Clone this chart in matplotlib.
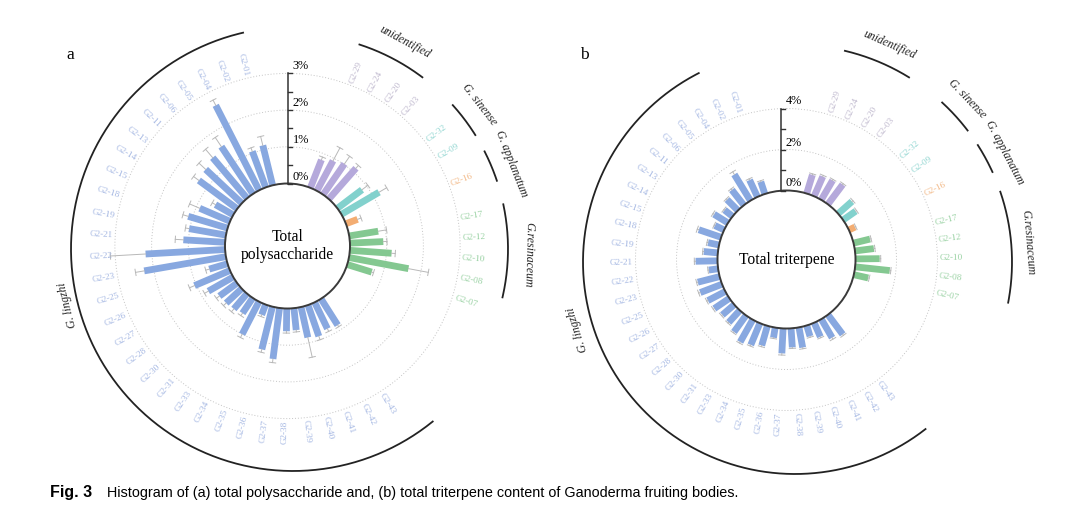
import numpy as np
import matplotlib.pyplot as plt
from matplotlib.patches import Polygon, Circle

plt.rcParams['font.family'] = ['Liberation Serif', 'DejaVu Serif']

# groups, clockwise from the top
groups = ["unidentified", "G. sinense", "G. applanatum", "G.resinaceum", "G. lingzhi"]
samples = [
    ["G2-29", "G2-24", "G2-20", "G2-03"],
    ["G2-32", "G2-09"],
    ["G2-16"],
    ["G2-17", "G2-12", "G2-10", "G2-08", "G2-07"],
    ["G2-43", "G2-42", "G2-41", "G2-40", "G2-39", "G2-38", "G2-37", "G2-36",
     "G2-35", "G2-34", "G2-33", "G2-31", "G2-30", "G2-28", "G2-27", "G2-26",
     "G2-25", "G2-23", "G2-22", "G2-21", "G2-19", "G2-18", "G2-15", "G2-14",
     "G2-13", "G2-11", "G2-06", "G2-05", "G2-04", "G2-02", "G2-01"],
]

# (a) total polysaccharide, %
poly_mean = [0.82, 0.93, 1.02, 1.12,
             0.84, 1.19,
             0.34,
             0.80, 0.91, 1.14, 1.65, 0.70,
             0.85, 0.80, 0.90, 0.85, 0.60, 0.62, 1.40, 1.20, 0.30, 1.00, 0.50,
             0.55, 0.58, 0.60, 0.78, 1.05, 0.52, 2.26, 2.17, 1.14, 1.02, 1.12,
             0.90, 0.56, 1.30, 1.35, 1.45, 1.55, 2.60, 1.05, 1.12]
poly_err = [0.08, 0.40, 0.25, 0.10,
            0.20, 0.24,
            0.10,
            0.23, 0.10, 0.10, 0.55, 0.05,
            0.05, 0.08, 0.10, 0.55, 0.05, 0.05, 0.10, 0.08, 0.05, 0.10, 0.08,
            0.10, 0.10, 0.10, 0.12, 0.15, 0.10, 0.24, 0.96, 0.22, 0.10, 0.15,
            0.30, 0.10, 0.18, 0.25, 0.30, 0.30, 0.16, 0.10, 0.25]

# (b) total triterpene, %
trit_mean = [0.95, 1.05, 1.10, 1.20,
             0.90, 0.75,
             0.33,
             0.83, 0.93, 1.18, 1.70, 0.72,
             1.20, 1.05, 0.75, 0.55, 1.00, 0.93, 1.22, 0.50, 1.00, 1.15, 1.25,
             1.00, 0.80, 0.77, 0.89, 0.96, 1.14, 1.10, 0.46, 1.07, 0.69, 0.55,
             1.15, 0.50, 0.80, 0.50, 0.75, 0.95, 1.50, 0.91, 0.63]
trit_err = [0.05, 0.06, 0.05, 0.05,
            0.06, 0.05,
            0.04,
            0.05, 0.05, 0.05, 0.05, 0.05,
            0.06, 0.08, 0.05, 0.05, 0.06, 0.05, 0.08, 0.04, 0.06, 0.06, 0.06,
            0.05, 0.05, 0.05, 0.06, 0.06, 0.08, 0.06, 0.04, 0.06, 0.05, 0.05,
            0.08, 0.04, 0.06, 0.04, 0.05, 0.06, 0.15, 0.06, 0.05]

bar_colors = ["#b5a9db", "#82d1cd", "#f3ad72", "#84c891", "#88a8e0"]
label_colors = ["#bdb6cc", "#8fd5d0", "#f2b886", "#98d1a2", "#a3b6e2"]

# angular layout (degrees, clockwise from top)
unit = 6.62
gaps = [1.75, 1.45, 1.75, 6.1]
angles, gid = [], []
pos = 0.0
for g, names in enumerate(samples):
    for i in range(len(names)):
        angles.append(21.5 + pos * unit)
        gid.append(g)
        pos += 1
    if g < len(gaps):
        pos += gaps[g] - 1
angles = np.array(angles)
names_all = [n for grp in samples for n in grp]


def xy(cx, cy, r, th):
    t = np.radians(th)
    return cx + r * np.sin(t), cy - r * np.cos(t)


def panel(ax, cx, cy, r0, k, means, errs, rot, top, minor, major, grid,
          axis_x, title, arc_c, arc_r, arc_span, glab, letter):
    ths = angles + rot
    for r in grid:
        ax.add_patch(Circle((cx, cy), r0 + r * k, fill=False, ec="#c4c4c4",
                            lw=0.7, ls=(0, (1, 2)), zorder=0))
    w = 6.8
    for th, v, e, g in zip(ths, means, errs, gid):
        t = np.radians(th)
        u = np.array([np.sin(t), -np.cos(t)])
        n = np.array([np.cos(t), np.sin(t)])
        c = np.array([cx, cy])
        r1, r2 = r0 - 4, r0 + v * k
        pts = [c + r1 * u - w / 2 * n, c + r2 * u - w / 2 * n,
               c + r2 * u + w / 2 * n, c + r1 * u + w / 2 * n]
        ax.add_patch(Polygon(pts, closed=True, fc=bar_colors[g], ec="none", zorder=2))
        r3 = r2 + e * k
        p2, p3 = c + r2 * u, c + r3 * u
        ax.plot([p2[0], p3[0]], [p2[1], p3[1]], color="#b8b8b8", lw=0.7, zorder=3)
        q1, q2 = p3 - 3.2 * n, p3 + 3.2 * n
        ax.plot([q1[0], q2[0]], [q1[1], q2[1]], color="#b8b8b8", lw=0.7, zorder=3)

    ax.add_patch(Circle((cx, cy), r0, fc="white", ec="#3a3a3a", lw=1.4, zorder=5))
    ax.text(cx, cy, title, ha="center", va="center", fontsize=11.2,
            linespacing=1.1, zorder=6)

    # radial axis
    ax.plot([axis_x, axis_x], [cy - r0, cy - r0 - top * k], color="#333333", lw=1.1, zorder=6)
    for tv in np.arange(0, top + 1e-9, minor):
        y = cy - r0 - tv * k
        ax.plot([axis_x, axis_x + 4.5], [y, y], color="#333333", lw=1.0, zorder=6)
    for tv in major:
        y = cy - r0 - tv * k
        ax.text(axis_x + 5, y - 1, f"{tv}%", ha="left", va="bottom", fontsize=8.8, zorder=6)

    # sample labels
    rl = r0 + grid[-1] * k + 2.5
    for th, name, g in zip(ths, names_all, gid):
        x, y = xy(cx, cy, rl, th)
        if th % 360 < 180:
            ax.text(x, y, name, rotation=90 - th, ha="left", va="center",
                    rotation_mode="anchor", fontsize=6.6, color=label_colors[g])
        else:
            ax.text(x, y, name, rotation=270 - th, ha="right", va="center",
                    rotation_mode="anchor", fontsize=6.6, color=label_colors[g])

    # group arcs and names
    for g in range(len(groups)):
        a0, a1 = arc_span[g]
        t = np.linspace(a0, a1, 200)
        x, y = xy(arc_c[0], arc_c[1], arc_r[g], t)
        ax.plot(x, y, color="#222222", lw=1.3)
        th, r = glab[g]
        x, y = xy(arc_c[0], arc_c[1], r, th)
        ax.text(x, y, groups[g], rotation=-th, ha="center", va="center",
                fontsize=8.5, style="italic", color="#222222")

    ax.text(letter[0], letter[1], letter[2], fontsize=12.5, ha="center", va="center")


fig = plt.figure(figsize=(10.8, 5.22), dpi=100)
ax = fig.add_axes([0, 0, 1, 1])
ax.set_xlim(0, 1080)
ax.set_ylim(522, 0)
ax.axis("off")

panel(ax, 287.5, 246, 62.5, 36.7, poly_mean, poly_err, 0, 3, 0.5, [0, 1, 2, 3], [1, 2, 3],
      287.5, "Total\npolysaccharide", (293, 249),
      [215, 215, 215, 215, 222],
      [(18, 37), (48, 58), (63, 71.5), (78, 103), (141, 347)],
      [(28.4, 235), (52.2, 236), (68.6, 235), (91.5, 236), (256, 232)],
      (70, 55, "a"))

panel(ax, 786.5, 259.5, 69, 20.5, trit_mean, trit_err, -4.5, 4, 1, [0, 2, 4], [2, 4],
      780.5, "Total triterpene", (795, 262),
      [217, 217, 217, 217, 212],
      [(13.3, 31.7), (42.7, 52.7), (57.4, 65.5), (71.1, 100.8), (142, 333)],
      [(23.6, 237), (46.5, 237), (62.4, 237), (85.3, 234), (252.8, 228)],
      (584, 55, "b"))

fig.text(50 / 1080, 1 - 497 / 522, "Fig. 3", fontfamily="Liberation Sans",
         fontweight="bold", fontsize=11.5, va="baseline")
fig.text(107 / 1080, 1 - 497 / 522,
         "Histogram of (a) total polysaccharide and, (b) total triterpene content of Ganoderma fruiting bodies.",
         fontfamily="Liberation Sans", fontsize=10.4, va="baseline")

fig.savefig("out.png", dpi=100)
